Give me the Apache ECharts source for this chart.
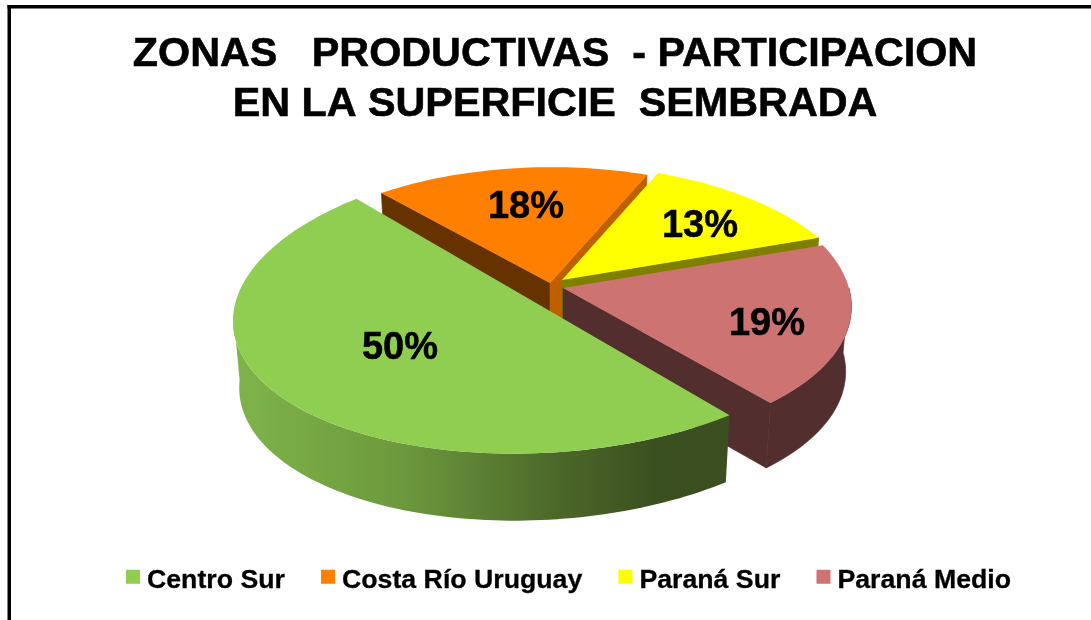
<!DOCTYPE html>
<html>
<head>
<meta charset="utf-8">
<title>Zonas productivas</title>
<script src="https://cdn.jsdelivr.net/npm/echarts@6/dist/echarts.min.js"></script>
<style>
  html, body { margin: 0; padding: 0; background: #fff; }
  #chart { width: 1091px; height: 620px; }
</style>
</head>
<body>
<div id="chart"></div>
<script>
const zonas = ['Centro Sur', 'Costa Río Uruguay', 'Paraná Sur', 'Paraná Medio'];
const participacion = [50, 18, 13, 19];
const tituloLineas = ['ZONAS   PRODUCTIVAS  - PARTICIPACION', 'EN LA SUPERFICIE  SEMBRADA'];

// slices run clockwise on screen from this angle (degrees, y pointing down)
const START_DEG = 48;
const WALL_SHRINK = 0.98;
const FONT = '"Liberation Sans", Arial, sans-serif';
// square in the top of a taller box, so the icon sits above the text centre
const LEGEND_ICON = 'path://M0 0H14V14H0Z M0 22H14V22H0Z';

// how each exploded slice is projected: apex, radii, perspective, shear, walls to show
// outerArc is the part of the rim that faces the viewer, the back of it stays hidden
const sliceLayout = [
  { ax: 543, ay: 307, rx: 310, ry: 146, offX: 0, persp: 0, shear: -0.045, rot: 5, wall: 67,
    top: '#8fce50', label: [400, 349], z: 9, outer: 'gradient', outerArc: [53, 183] },
  { ax: 550, ay: 283, rx: 292, ry: 139, offX: 1.5, persp: 0.2, shear: 0, rot: 0, wall: 65,
    top: '#ff8000', label: [526, 208], z: 3, startFace: '#663300', endFace: '#bf6000' },
  { ax: 562, ay: 280, rx: 293, ry: 139, offX: 0, persp: 0.2, shear: 0.012, rot: 0, wall: 65,
    top: '#ffff00', label: [700, 227], z: 4, endFace: '#7f7f00' },
  { ax: 563, ay: 288, rx: 287, ry: 139, offX: 0, persp: 0.1, shear: 0.016, rot: 0, wall: 65,
    top: '#cd7371', label: [767, 325], z: 5, endFace: '#522e2e', outer: '#522e2e', outerArc: [358, 408] }
];

function sliceRange(index) {
  let from = START_DEG;
  for (let i = 0; i < index; i++) from += participacion[i] * 3.6;
  return [from, from + participacion[index] * 3.6];
}

function project(l, deg, lowered) {
  const a = (deg * Math.PI) / 180;
  const u = Math.cos(a);
  const v = Math.sin(a);
  const s = 1 / (1 - l.persp * v);
  const k = lowered ? WALL_SHRINK : 1;
  const dx = l.rx * u * s;
  return [
    l.ax + l.offX + dx * k,
    l.ay + l.ry * v * s + l.shear * dx + (lowered ? l.wall : 0)
  ];
}

function arcPoints(l, from, to, lowered) {
  const pts = [];
  const steps = Math.ceil(Math.abs(to - from) / 1.5);
  for (let i = 0; i <= steps; i++) {
    pts.push(project(l, from + ((to - from) * i) / steps, lowered));
  }
  return pts;
}

function face(l, corner, fill) {
  return {
    type: 'polygon',
    shape: {
      points: [[l.ax, l.ay], project(l, corner, false), project(l, corner, true), [l.ax, l.ay + l.wall]]
    },
    style: { fill: fill, stroke: fill, lineWidth: 0.6 }
  };
}

function renderSlice(index) {
  return function (params, api) {
    const l = sliceLayout[index];
    const value = api.value(0);
    const range = sliceRange(index);
    const from = range[0] + l.rot;
    const to = range[1] + l.rot;
    const children = [];

    if (l.startFace) children.push(face(l, from, l.startFace));
    if (l.endFace) children.push(face(l, to, l.endFace));
    if (l.outer) {
      const fill = l.outer === 'gradient'
        ? new echarts.graphic.LinearGradient(0, 0, 1, 0, [
            { offset: 0, color: '#7fb44a' },
            { offset: 0.35, color: '#6b983c' },
            { offset: 0.65, color: '#4c6829' },
            { offset: 0.85, color: '#3b5020' },
            { offset: 1, color: '#3b4f20' }
          ])
        : l.outer;
      const a0 = l.outerArc[0];
      const a1 = l.outerArc[1];
      children.push({
        type: 'polygon',
        shape: {
          points: arcPoints(l, a0, a1, false).concat(arcPoints(l, a1, a0, true))
        },
        style: { fill: fill, stroke: l.outer === 'gradient' ? null : fill, lineWidth: 0.6 }
      });
    }
    children.push({
      type: 'polygon',
      shape: { points: [[l.ax, l.ay]].concat(arcPoints(l, from, to, false)) },
      style: { fill: l.top }
    });
    children.push({
      type: 'text',
      style: {
        text: value + '%',
        x: l.label[0],
        y: l.label[1],
        fill: '#000',
        stroke: '#000',
        lineWidth: 0.5,
        font: 'bold 38px ' + FONT,
        align: 'center',
        verticalAlign: 'middle'
      }
    });
    return { type: 'group', children: children };
  };
}

const chart = echarts.init(document.getElementById('chart'), null, { renderer: 'canvas' });

chart.setOption({
  animation: false,
  backgroundColor: '#fff',
  title: {
    text: tituloLineas.join('\n'),
    left: 550,
    top: 24,
    textAlign: 'center',
    textStyle: {
      color: '#000',
      fontFamily: FONT,
      fontWeight: 'bold',
      fontSize: 41.3,
      lineHeight: 50.5,
      textBorderColor: '#000',
      textBorderWidth: 0.6
    }
  },
  legend: {
    left: 121,
    top: 562,
    icon: LEGEND_ICON,
    itemWidth: 14,
    itemHeight: 22,
    itemGap: 36,
    selectedMode: false,
    data: zonas,
    textStyle: {
      color: '#000',
      fontFamily: FONT,
      fontWeight: 'bold',
      fontSize: 26.7,
      padding: [0, 0, 0, 2],
      textBorderColor: '#000',
      textBorderWidth: 0.3
    }
  },
  graphic: [
    { type: 'rect', silent: true, shape: { x: 7.5, y: 5, width: 3.5, height: 620 }, style: { fill: '#000' } },
    { type: 'rect', silent: true, shape: { x: 7.5, y: 5, width: 1090, height: 3.5 }, style: { fill: '#000' } }
  ],
  series: zonas.map(function (zona, i) {
    return {
      type: 'custom',
      name: zona,
      coordinateSystem: 'none',
      z: sliceLayout[i].z,
      silent: true,
      itemStyle: { color: sliceLayout[i].top },
      data: [[participacion[i]]],
      renderItem: renderSlice(i)
    };
  })
});
</script>
</body>
</html>
